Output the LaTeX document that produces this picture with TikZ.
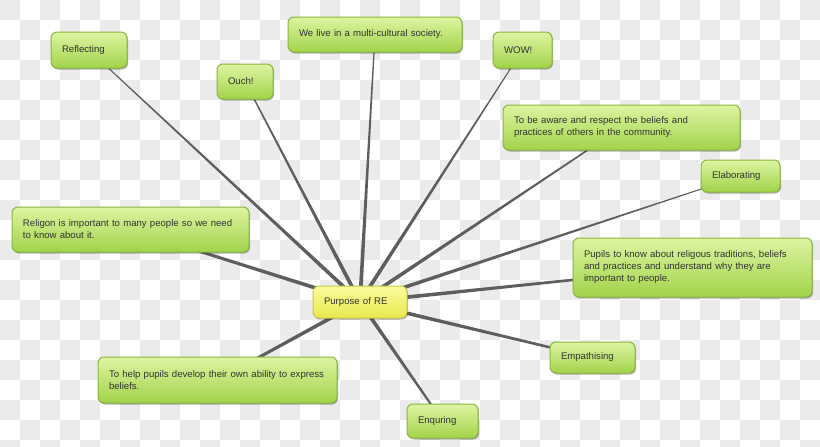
\documentclass[tikz,border=0pt]{standalone}
\usepackage{fontspec}
\setmainfont{Liberation Sans}
\usetikzlibrary{calc,shadows}
\definecolor{chk}{HTML}{EBEBEB}
\definecolor{gtop}{HTML}{DDF4A2}
\definecolor{gbot}{HTML}{A2D34A}
\definecolor{gbrd}{HTML}{89B83A}
\definecolor{ytop}{HTML}{FBFB9E}
\definecolor{ybot}{HTML}{E8E84E}
\definecolor{ybrd}{HTML}{C8C84C}
\definecolor{txt}{HTML}{333333}
\definecolor{linecol}{HTML}{5E5E5E}
\pgfdeclarelayer{bg}
\pgfdeclarelayer{lines}
\pgfsetlayers{bg,lines,main}
\tikzset{
  idea/.style={rounded corners=6pt, draw=gbrd, line width=1pt,
    top color=gtop, bottom color=gbot, text=txt,
    font=\fontsize{9.6}{12}\selectfont, align=left,
    inner xsep=11pt, inner ysep=2pt,
    drop shadow={shadow xshift=1pt, shadow yshift=-1.5pt, opacity=0.3, fill=black}},
  hubbox/.style={idea, draw=ybrd, top color=ytop, bottom color=ybot},
}
\newcommand\conn[3]{%
  \fill[linecol] ($(#1)!2pt!90:(#2)$) -- ($(#2)!#3!-90:(#1)$) -- ($(#2)!#3!90:(#1)$) -- ($(#1)!2pt!-90:(#2)$) -- cycle;}
\begin{document}
\begin{tikzpicture}[x=1pt,y=-1pt]
\useasboundingbox (0,0) rectangle (820,447);
\begin{pgfonlayer}{bg}
\fill[white] (0,0) rectangle (820,447);
\foreach \i in {0,...,40}{\foreach \j in {0,...,22}{%
  \pgfmathtruncatemacro\p{mod(\i+\j,2)}%
  \ifnum\p=0 \fill[chk] (20*\i,20*\j) rectangle ++(20,20);\fi}}
\end{pgfonlayer}

\node[hubbox, text width=72pt, minimum height=32pt] (purp) at (360,302) {Purpose of RE};
\node[idea, text width=54pt, minimum height=36pt] (refl) at (89,50) {Reflecting};
\node[idea, text width=34pt, minimum height=35pt] (ouch) at (245,81.5) {Ouch!};
\node[idea, text width=152pt, minimum height=35pt] (live) at (375,34.5) {We live in a multi-cultural society.};
\node[idea, text width=37pt, minimum height=36pt] (wow) at (522.5,50) {WOW!};
\node[idea, text width=215pt, minimum height=45pt] (aware) at (621.5,127.5) {To be aware and respect the beliefs and\\practices of others in the community.};
\node[idea, text width=57pt, minimum height=32pt] (elab) at (740.5,176) {Elaborating};
\node[idea, text width=215pt, minimum height=45pt] (relig) at (130.5,229.5) {Religon is important to many people so we need\\to know about it.};
\node[idea, text width=217pt, minimum height=59pt] (pupils) at (692.5,267.5) {Pupils to know about religous traditions, beliefs\\and practices and understand why they are\\important to people.};
\node[idea, text width=63pt, minimum height=31pt] (empa) at (592.5,357.5) {Empathising};
\node[idea, text width=217pt, minimum height=46pt] (help) at (217.5,380) {To help pupils develop their own ability to express\\beliefs.};
\node[idea, text width=49pt, minimum height=34pt] (enq) at (442.5,421) {Enquring};

\begin{pgfonlayer}{lines}
\conn{purp}{refl}{0.4pt}
\conn{purp}{ouch}{0.6pt}
\conn{purp}{live}{0.5pt}
\conn{purp}{wow}{0.4pt}
\conn{purp}{aware}{0.6pt}
\conn{purp}{elab}{0.35pt}
\conn{purp}{relig}{1.2pt}
\conn{purp}{pupils}{0.9pt}
\conn{purp}{empa}{1.1pt}
\conn{purp}{help}{1.3pt}
\conn{purp}{enq}{0.9pt}
\end{pgfonlayer}
\end{tikzpicture}
\end{document}
